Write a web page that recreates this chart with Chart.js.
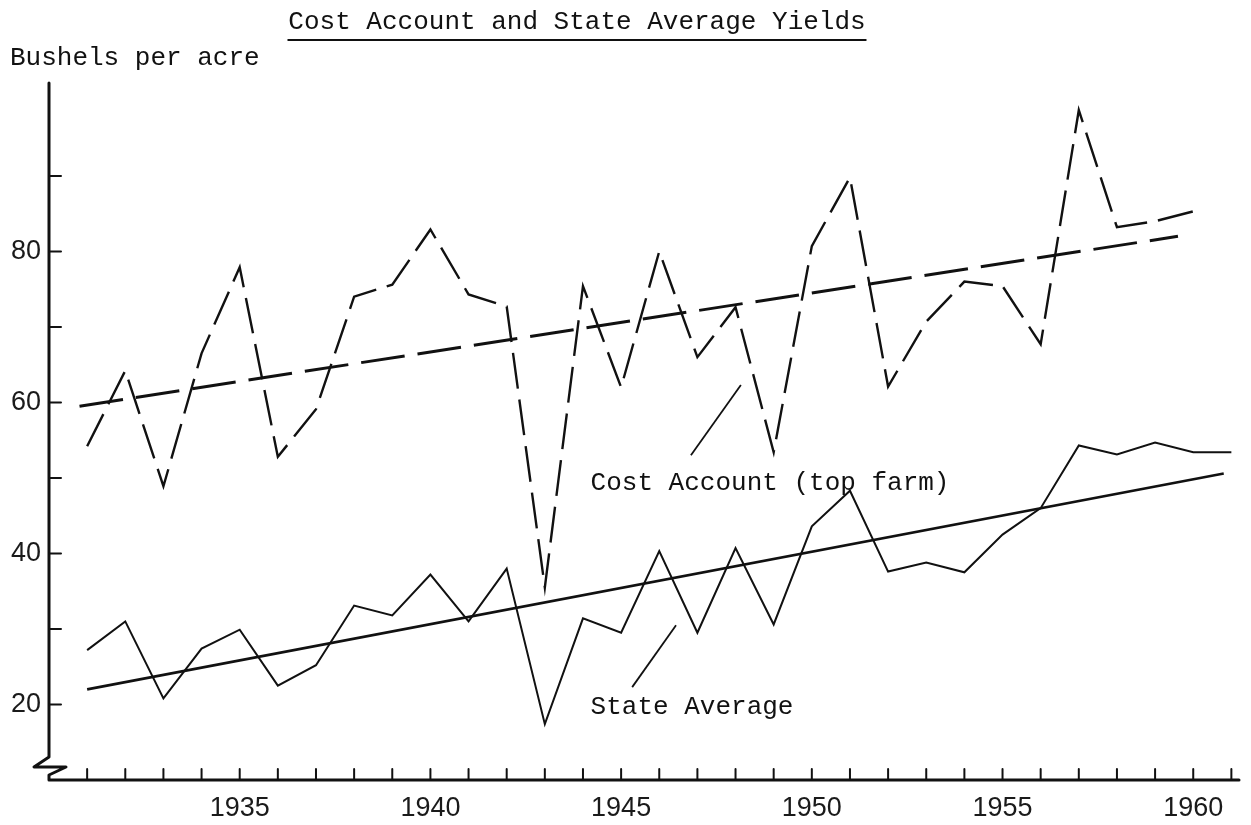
<!DOCTYPE html>
<html>
<head>
<meta charset="utf-8">
<title>Cost Account and State Average Yields</title>
<script src="https://cdn.jsdelivr.net/npm/chart.js@4.4.0/dist/chart.umd.min.js"></script>
<style>
    html, body { margin: 0; padding: 0; background: #fff; }
    #chart { display: block; }
</style>
</head>
<body>
<canvas id="chart" width="1251" height="825"></canvas>
<script>
// Yields in bushels per acre

const years = [1931, 1932, 1933, 1934, 1935, 1936, 1937, 1938, 1939, 1940,
               1941, 1942, 1943, 1944, 1945, 1946, 1947, 1948, 1949, 1950,
               1951, 1952, 1953, 1954, 1955, 1956, 1957, 1958, 1959, 1960, 1961];

// Cost account (top farm) - no 1961 figure
const costAccount = [54.2, 64.2, 48.9, 66.5, 77.9, 52.8, 59.1, 74.0, 75.6, 82.9,
                     74.3, 72.7, 35.5, 75.4, 62.0, 80.0, 66.0, 72.6, 53.4, 80.7,
                     89.8, 62.1, 70.7, 76.0, 75.4, 67.7, 98.7, 83.2, 84.0, 85.3, null];

const stateAverage = [27.2, 31.0, 20.8, 27.4, 29.9, 22.5, 25.2, 33.1, 31.8, 37.2,
                      31.0, 38.0, 17.4, 31.4, 29.5, 40.3, 29.5, 40.7, 30.6, 43.6,
                      48.3, 37.6, 38.8, 37.5, 42.5, 46.0, 54.3, 53.1, 54.7, 53.4, 53.4];

// Straight trend lines (end points)
const costTrendYears = [1930.8, 1959.6];
const costTrend = [59.5, 82.0];
const stateTrendYears = [1931, 1960.8];
const stateTrend = [22.0, 50.6];

// Little pointer strokes from the labels to the lines
const costPointerYears = [1946.83, 1948.14];
const costPointer = [53.0, 62.3];
const statePointerYears = [1945.29, 1946.44];
const statePointer = [22.3, 30.5];

const yTickValues = [20, 30, 40, 50, 60, 70, 80, 90];
const yTickLabels = [20, 40, 60, 80];
const xTickLabels = [1935, 1940, 1945, 1950, 1955, 1960];

const INK = '#111';
const TYPE_FONT = '"Liberation Mono", "DejaVu Sans Mono", monospace';
const HAND_FONT = '"Liberation Sans", Arial, sans-serif';

function pairs(xs, ys) {
    return xs.map((x, i) => ({ x: x, y: ys[i] }));
}

// Axes drawn by hand: broken y axis, ticks pointing inward, typed texts
const paperAxes = {
    id: 'paperAxes',
    afterDraw(chart) {
        const { ctx, chartArea: a, scales: { x, y } } = chart;
        ctx.save();
        ctx.strokeStyle = INK;
        ctx.lineCap = 'round';
        ctx.lineJoin = 'round';

        // y axis with the break mark, then the x axis
        ctx.lineWidth = 3;
        ctx.beginPath();
        ctx.moveTo(a.left, a.top);
        ctx.lineTo(a.left, a.bottom - 23);
        ctx.lineTo(a.left - 15, a.bottom - 13);
        ctx.lineTo(a.left + 17, a.bottom - 13);
        ctx.lineTo(a.left, a.bottom - 5);
        ctx.lineTo(a.left, a.bottom);
        ctx.lineTo(a.right, a.bottom);
        ctx.stroke();

        // inward ticks
        ctx.lineWidth = 2;
        ctx.beginPath();
        yTickValues.forEach(v => {
            const py = y.getPixelForValue(v);
            ctx.moveTo(a.left, py);
            ctx.lineTo(a.left + 12, py);
        });
        years.forEach(yr => {
            const px = x.getPixelForValue(yr);
            ctx.moveTo(px, a.bottom);
            ctx.lineTo(px, a.bottom - 11);
        });
        ctx.stroke();

        // title, underlined
        ctx.fillStyle = INK;
        ctx.font = '26px ' + TYPE_FONT;
        ctx.textAlign = 'center';
        ctx.textBaseline = 'middle';
        const title = 'Cost Account and State Average Yields';
        const cx = 577;
        ctx.fillText(title, cx, 22);
        const w = ctx.measureText(title).width;
        ctx.lineWidth = 2.2;
        ctx.beginPath();
        ctx.moveTo(cx - w / 2, 40);
        ctx.lineTo(cx + w / 2, 40);
        ctx.stroke();

        ctx.textAlign = 'left';
        ctx.fillText('Bushels per acre', 10, 58);

        // series labels, placed in data units
        ctx.fillText('Cost Account (top farm)', x.getPixelForValue(1944.2), y.getPixelForValue(49.3));
        ctx.fillText('State Average', x.getPixelForValue(1944.2), y.getPixelForValue(19.7));
        ctx.restore();
    }
};

const ctx = document.getElementById('chart').getContext('2d');

const chart = new Chart(ctx, {
    type: 'line',
    data: {
        datasets: [
            {
                label: 'Cost Account (top farm)',
                data: pairs(years, costAccount),
                borderColor: INK,
                borderWidth: 2.4,
                borderDash: [36, 11],
                pointRadius: 0,
                spanGaps: false
            },
            {
                label: 'Cost Account trend',
                data: pairs(costTrendYears, costTrend),
                borderColor: INK,
                borderWidth: 3,
                borderDash: [44, 13],
                pointRadius: 0
            },
            {
                label: 'State Average',
                data: pairs(years, stateAverage),
                borderColor: INK,
                borderWidth: 2,
                pointRadius: 0
            },
            {
                label: 'State Average trend',
                data: pairs(stateTrendYears, stateTrend),
                borderColor: INK,
                borderWidth: 2.6,
                pointRadius: 0
            },
            {
                label: 'cost pointer',
                data: pairs(costPointerYears, costPointer),
                borderColor: INK,
                borderWidth: 1.8,
                pointRadius: 0
            },
            {
                label: 'state pointer',
                data: pairs(statePointerYears, statePointer),
                borderColor: INK,
                borderWidth: 1.8,
                pointRadius: 0
            }
        ]
    },
    options: {
        responsive: false,
        animation: false,
        events: [],
        layout: { padding: { top: 83, right: 10, left: 0, bottom: 0 } },
        elements: { line: { tension: 0, fill: false } },
        plugins: {
            legend: { display: false },
            title: { display: false },
            tooltip: { enabled: false }
        },
        scales: {
            x: {
                type: 'linear',
                min: 1930,
                max: 1961.2,
                grid: { display: false, drawTicks: false },
                border: { display: false },
                afterFit(scale) { scale.height = 45; },
                ticks: {
                    stepSize: 1,
                    autoSkip: false,
                    maxRotation: 0,
                    padding: 12,
                    color: '#1a1a1a',
                    font: { family: HAND_FONT, size: 27 },
                    callback: v => xTickLabels.includes(v) ? String(v) : ''
                }
            },
            y: {
                type: 'linear',
                min: 10,
                max: 102.3,
                grid: { display: false, drawTicks: false },
                border: { display: false },
                afterFit(scale) { scale.width = 49; },
                ticks: {
                    stepSize: 10,
                    autoSkip: false,
                    padding: 8,
                    color: '#1a1a1a',
                    font: { family: HAND_FONT, size: 27 },
                    callback: v => yTickLabels.includes(v) ? String(v) : ''
                }
            }
        }
    },
    plugins: [paperAxes]
});
</script>
</body>
</html>
